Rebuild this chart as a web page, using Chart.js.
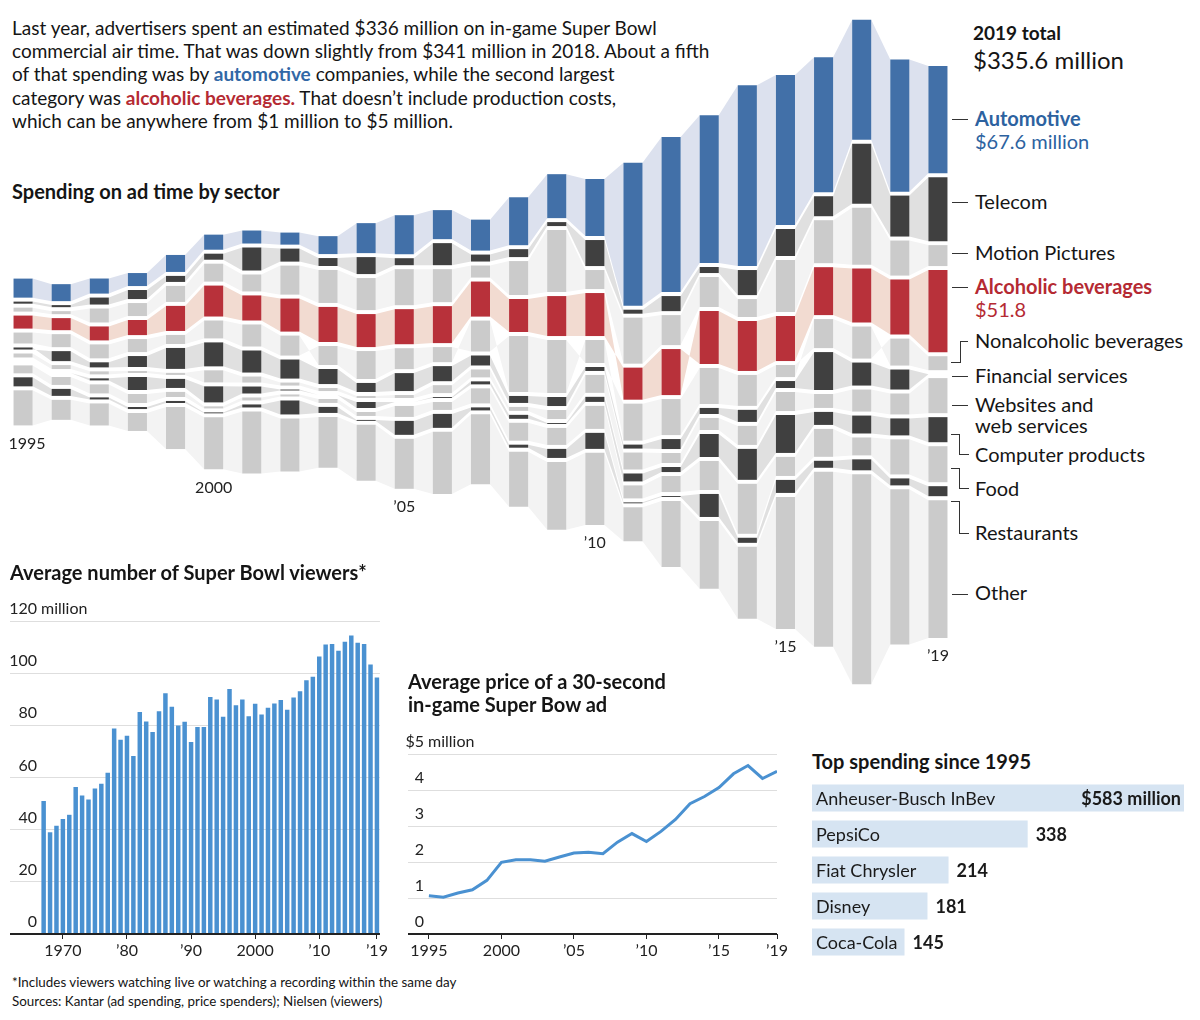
<!DOCTYPE html>
<html>
<head>
<meta charset="utf-8">
<script src="https://cdn.jsdelivr.net/npm/chart.js@4.4.1/dist/chart.umd.min.js"></script>
<style>
  body { margin: 0; background: #fff; font-family: Lato, "Open Sans", sans-serif; color: #151515; }
  #page { position: relative; width: 1200px; height: 1020px; overflow: hidden; }
  .abs { position: absolute; white-space: nowrap; }
  .box { position: absolute; }
  .intro { left: 12px; top: 16px; font-size: 19px; line-height: 23.2px; }
  .intro b.auto { color: #3268a6; }
  .intro b.alc { color: #b52a33; }
  .head { font-weight: 700; font-size: 20px; }
  .lab { font-size: 20px; line-height: 21px; }
  .tick { position: absolute; border-top: 1.5px solid #333; width: 16px; left: 952px; }
  .brk { position: absolute; border: 0 solid #333; }
  .note { font-size: 13.4px; left: 12px; }
</style>
</head>
<body>
<div id="page">
  <div class="abs intro">Last year, advertisers spent an estimated $336 million on in-game Super Bowl<br>commercial air time. That was down slightly from $341 million in 2018. About a fifth<br>of that spending was by <b class="auto">automotive</b> companies, while the second largest<br>category was <b class="alc">alcoholic beverages.</b> That doesn’t include production costs,<br>which can be anywhere from $1 million to $5 million.</div>
  <div class="abs head" style="left:12px;top:179px;">Spending on ad time by sector</div>

  <div class="box" style="left:4px;top:0;width:953px;height:704px;"><canvas id="sector"></canvas></div>

  <div class="abs head" style="left:973px;top:21px;font-size:19px;">2019 total</div>
  <div class="abs" style="left:973px;top:45px;font-size:24px;">$335.6 million</div>
  <div class="abs lab" style="left:975px;top:108px;color:#2d62a0;font-weight:700;">Automotive</div>
  <div class="abs lab" style="left:975px;top:131px;color:#2d62a0;">$67.6 million</div>
  <div class="abs lab" style="left:975px;top:191px;">Telecom</div>
  <div class="abs lab" style="left:975px;top:242px;">Motion Pictures</div>
  <div class="abs lab" style="left:975px;top:276px;color:#b52a33;font-weight:700;">Alcoholic beverages</div>
  <div class="abs lab" style="left:975px;top:299px;color:#b52a33;">$51.8</div>
  <div class="abs lab" style="left:975px;top:330px;">Nonalcoholic beverages</div>
  <div class="abs lab" style="left:975px;top:365px;">Financial services</div>
  <div class="abs lab" style="left:975px;top:394px;">Websites and<br>web services</div>
  <div class="abs lab" style="left:975px;top:444px;">Computer products</div>
  <div class="abs lab" style="left:975px;top:478px;">Food</div>
  <div class="abs lab" style="left:975px;top:522px;">Restaurants</div>
  <div class="abs lab" style="left:975px;top:582px;">Other</div>

  <div class="tick" style="top:119px;"></div>
  <div class="tick" style="top:202px;"></div>
  <div class="tick" style="top:253px;"></div>
  <div class="tick" style="top:287px;"></div>
  <div class="tick" style="top:376px;"></div>
  <div class="tick" style="top:405px;"></div>
  <div class="tick" style="top:594px;"></div>
  <!-- brackets -->
  <div class="brk" style="left:951px;top:341px;width:9px;height:21px;border-right-width:1.5px;border-bottom-width:1.5px;"></div>
  <div class="brk" style="left:960px;top:341px;width:8px;height:0;border-top-width:1.5px;"></div>
  <div class="brk" style="left:951px;top:434px;width:9px;height:0;border-top-width:1.5px;"></div>
  <div class="brk" style="left:959px;top:434px;width:9px;height:20px;border-left-width:1.5px;border-bottom-width:1.5px;"></div>
  <div class="brk" style="left:951px;top:468px;width:9px;height:0;border-top-width:1.5px;"></div>
  <div class="brk" style="left:959px;top:468px;width:9px;height:20px;border-left-width:1.5px;border-bottom-width:1.5px;"></div>
  <div class="brk" style="left:951px;top:501px;width:9px;height:0;border-top-width:1.5px;"></div>
  <div class="brk" style="left:959px;top:501px;width:9px;height:32px;border-left-width:1.5px;border-bottom-width:1.5px;"></div>

  <div class="abs head" style="left:10px;top:560px;">Average number of Super Bowl viewers*</div>
  <div class="box" style="left:0;top:591px;width:390px;height:373px;"><canvas id="viewers"></canvas></div>

  <div class="abs head" style="left:408px;top:670px;line-height:23px;">Average price of a 30-second<br>in-game Super Bow ad</div>
  <div class="box" style="left:398px;top:724px;width:392px;height:240px;"><canvas id="price"></canvas></div>

  <div class="abs head" style="left:812px;top:749px;">Top spending since 1995</div>
  <div class="box" style="left:812px;top:780px;width:372px;height:180px;"><canvas id="top"></canvas></div>

  <div class="abs note" style="top:974px;">*Includes viewers watching live or watching a recording within the same day</div>
  <div class="abs note" style="top:993px;">Sources: Kantar (ad spending, price spenders); Nielsen (viewers)</div>
</div>

<script>
const FONT = 'Lato, "Open Sans", sans-serif';

// ---- ad spending by sector, $ million, 1995-2019 ----
const years = [1995, 1996, 1997, 1998, 1999, 2000, 2001, 2002, 2003, 2004, 2005, 2006, 2007,
  2008, 2009, 2010, 2011, 2012, 2013, 2014, 2015, 2016, 2017, 2018, 2019];
const yearLabels = { 1995: '1995', 2000: '2000', 2005: '’05', 2010: '’10', 2015: '’15', 2019: '’19' };

const automotive  = [12.0, 10.7, 9.5, 8.2, 10.7, 9.5, 8.2, 7.6, 11.3, 18.9, 24.6, 18.3, 19.5, 30.2, 27.7, 35.9, 90.1, 97.7, 93.2, 114.0, 94.5, 85.1, 75.6, 83.2, 67.6];
const telecom     = [1.3, 1.3, 4.4, 5.7, 3.8, 3.8, 14.5, 8.2, 5.0, 10.7, 4.4, 13.9, 4.4, 5.0, 2.5, 16.4, 2.5, 9.5, 3.8, 15.8, 17.0, 12.6, 37.8, 25.8, 40.3];
const motion      = [2.5, 1.9, 8.8, 8.2, 10.1, 11.3, 10.7, 18.3, 20.8, 20.2, 22.7, 20.8, 7.6, 21.4, 39.1, 12.0, 29.0, 18.9, 18.9, 11.3, 32.8, 27.1, 35.9, 22.1, 13.2];
const alcoholic   = [8.2, 7.6, 8.8, 9.5, 15.8, 19.5, 15.8, 20.8, 22.1, 20.8, 22.1, 23.3, 22.1, 20.8, 25.2, 27.1, 20.2, 29.0, 33.4, 31.5, 28.4, 30.2, 34.0, 34.7, 51.8];
const nonalcohol  = [6.9, 8.2, 8.8, 8.2, 5.7, 11.3, 13.9, 12.6, 12.0, 17.6, 13.2, 9.5, 19.5, 35.3, 33.4, 14.5, 23.3, 22.7, 22.7, 19.5, 7.6, 18.3, 20.2, 17.0, 8.8];
const financial   = [1.3, 6.3, 3.2, 6.9, 13.2, 15.1, 13.9, 12.0, 9.5, 5.7, 11.3, 9.5, 6.3, 4.4, 5.7, 2.5, 2.5, 6.3, 3.8, 7.6, 4.4, 23.9, 14.5, 12.6, 0];
const websites    = [2.5, 2.5, 1.9, 1.3, 1.3, 7.6, 3.8, 1.9, 1.9, 1.3, 1.9, 5.0, 5.0, 2.5, 5.7, 11.3, 10.7, 6.3, 7.6, 12.0, 12.0, 8.8, 13.9, 13.2, 22.1];
const computer    = [0, 0, 1.3, 8.2, 5.7, 10.1, 4.4, 0.6, 0, 3.8, 0, 0.6, 1.9, 2.5, 0.6, 3.2, 5.0, 3.2, 14.5, 19.5, 23.9, 8.2, 11.3, 10.7, 15.8];
const food        = [5.0, 5.0, 5.7, 5.7, 3.2, 1.3, 1.9, 1.3, 2.5, 2.5, 6.9, 5.0, 9.5, 11.3, 10.7, 14.5, 8.2, 10.1, 18.3, 31.5, 12.0, 17.6, 11.3, 22.1, 22.7];
const restaurants = [5.7, 4.4, 1.3, 1.3, 1.3, 0.6, 1.9, 8.8, 3.8, 0.6, 8.8, 8.8, 1.9, 1.9, 5.7, 10.1, 0.6, 0.6, 14.5, 3.2, 8.2, 4.4, 6.9, 4.4, 6.3];
const other       = [22.1, 12.6, 13.9, 11.3, 26.5, 32.8, 39.1, 33.4, 32.1, 35.3, 31.5, 39.1, 44.1, 34.7, 42.8, 45.4, 21.4, 41.6, 42.8, 45.4, 83.2, 110.3, 132.3, 97.7, 86.9];

const sectorNames = ['Automotive', 'Telecom', 'Motion Pictures', 'Alcoholic beverages',
  'Nonalcoholic beverages', 'Financial services', 'Websites and web services',
  'Computer products', 'Food', 'Restaurants', 'Other'];
const sectorSeries = [automotive, telecom, motion, alcoholic, nonalcohol, financial,
  websites, computer, food, restaurants, other];

// ---- viewers, millions, 1967-2019 ----
const viewerYears = [];
for (let y = 1967; y <= 2019; y++) viewerYears.push(y);
const viewers = [51.0, 39.0, 41.5, 44.1, 45.7, 56.4, 53.1, 51.6, 55.8, 57.6, 61.8, 78.8, 74.5,
  76.0, 68.2, 85.1, 81.5, 77.4, 85.4, 92.3, 87.1, 79.9, 81.4, 73.6, 79.4, 79.4, 90.9, 89.9,
  83.3, 93.9, 87.7, 89.9, 83.5, 88.3, 84.2, 86.7, 88.4, 89.7, 86.0, 90.7, 93.1, 97.3, 98.6,
  106.4, 111.0, 111.2, 108.6, 112.0, 114.4, 111.7, 111.2, 103.3, 98.3];
const viewerTicks = [0, 20, 40, 60, 80, 100, 120];
const viewerYearTicks = { 1970: '1970', 1980: '’80', 1990: '’90', 2000: '2000', 2010: '’10', 2019: '’19' };

// ---- price of 30-second ad, $ million ----
const adPrice = [1.06, 1.02, 1.14, 1.23, 1.49, 1.99, 2.06, 2.06, 2.02, 2.14, 2.25, 2.27, 2.23,
  2.55, 2.79, 2.57, 2.85, 3.18, 3.62, 3.82, 4.07, 4.45, 4.68, 4.32, 4.52];
const priceTicks = [0, 1, 2, 3, 4, 5];

// ---- top spenders since 1995, $ million ----
const companies = ['Anheuser-Busch InBev', 'PepsiCo', 'Fiat Chrysler', 'Disney', 'Coca-Cola'];
const companySpend = [583, 338, 214, 181, 145];

const BLUE = '#4270a8', DARK = '#404040', LIGHT = '#cbcbcb', RED = '#b8313a';
const BAND_BLUE = '#dce1ee', BAND_DARK = '#e0e0e0', BAND_LIGHT = '#f3f3f3', BAND_RED = '#f2dbd1';
const LINE_BLUE = '#4a91d1';
const GAP = 2.5; // white space between segments, in $ million

Chart.defaults.font.family = FONT;
Chart.defaults.animation = false;

// ---------- sector streams ----------
function sectorColors(i) {
  if (i === 0) return [BLUE, BAND_BLUE];
  if (i === 3) return [RED, BAND_RED];
  if (i === 1 || i === 5 || i === 7 || i === 9) return [DARK, BAND_DARK];
  return [LIGHT, BAND_LIGHT];
}

// stack each year top-down, centred on zero
const ranges = sectorSeries.map(() => []);
years.forEach((yr, j) => {
  const total = sectorSeries.reduce((s, arr) => s + arr[j], 0) + GAP * (sectorSeries.length - 1);
  let cursor = total / 2;
  sectorSeries.forEach((arr, i) => {
    ranges[i].push([cursor - arr[j], cursor]);
    cursor -= arr[j] + GAP;
  });
});

const bandPlugin = {
  id: 'bands',
  beforeDatasetsDraw(chart) {
    const ctx = chart.ctx;
    ctx.save();
    chart.data.datasets.forEach((ds, i) => {
      const bars = chart.getDatasetMeta(i).data;
      ctx.fillStyle = ds.bandColor;
      for (let j = 0; j < bars.length - 1; j++) {
        const a = bars[j], b = bars[j + 1];
        ctx.beginPath();
        ctx.moveTo(a.x + a.width / 2, a.y);
        ctx.lineTo(b.x - b.width / 2, b.y);
        ctx.lineTo(b.x - b.width / 2, b.base);
        ctx.lineTo(a.x + a.width / 2, a.base);
        ctx.closePath();
        ctx.fill();
      }
    });
    ctx.restore();
  }
};

const yearLabelPlugin = {
  id: 'yearLabels',
  afterDatasetsDraw(chart) {
    const ctx = chart.ctx;
    const last = chart.getDatasetMeta(chart.data.datasets.length - 1).data;
    ctx.save();
    ctx.font = '16px ' + FONT;
    ctx.fillStyle = '#222';
    ctx.textAlign = 'center';
    ctx.textBaseline = 'middle';
    years.forEach((yr, j) => {
      if (!yearLabels[yr]) return;
      const bar = last[j];
      ctx.fillText(yearLabels[yr], bar.x + (j === 0 ? 4 : 0), Math.max(bar.y, bar.base) + 18);
    });
    ctx.restore();
  }
};

new Chart(document.getElementById('sector'), {
  type: 'bar',
  data: {
    labels: years.map(String),
    datasets: sectorNames.map((name, i) => ({
      label: name,
      data: ranges[i],
      backgroundColor: sectorColors(i)[0],
      bandColor: sectorColors(i)[1],
      borderWidth: 0,
      grouped: false,
      barPercentage: 0.5,
      categoryPercentage: 1.0
    }))
  },
  options: {
    responsive: true,
    maintainAspectRatio: false,
    layout: { padding: 0 },
    plugins: { legend: { display: false }, tooltip: { enabled: false } },
    scales: {
      x: { display: false },
      y: { display: false, min: -221.8, max: 221.8 }
    }
  },
  plugins: [bandPlugin, yearLabelPlugin]
});

// ---------- small charts ----------
function yLabelPlugin(rightX, ticks, topPrefix) {
  return {
    id: 'yLabels',
    afterDraw(chart) {
      const ctx = chart.ctx;
      const y = chart.scales.y;
      ctx.save();
      ctx.font = '16px ' + FONT;
      ctx.fillStyle = '#222';
      ctx.textBaseline = 'middle';
      ticks.forEach((v, k) => {
        const py = y.getPixelForValue(v) - 12;
        ctx.textAlign = 'right';
        const top = k === ticks.length - 1;
        ctx.fillText((top ? topPrefix : '') + v, rightX, py);
        if (top) {
          ctx.textAlign = 'left';
          ctx.fillText('million', rightX + 4, py);
        }
      });
      ctx.restore();
    }
  };
}

function smallScales(xMin, xMax, tickMap, yMax, yTicks) {
  return {
    x: {
      type: 'linear', min: xMin, max: xMax, offset: false,
      afterBuildTicks: s => { s.ticks = Object.keys(tickMap).map(v => ({ value: +v })); },
      afterFit: s => { s.height = 30; },
      grid: { drawOnChartArea: false, drawTicks: true, tickLength: 5, color: '#222', offset: false },
      border: { display: false },
      ticks: {
        callback: v => tickMap[v], color: '#222', padding: 2,
        font: { size: 16 }, maxRotation: 0, autoSkip: false
      }
    },
    y: {
      min: 0, max: yMax,
      afterBuildTicks: s => { s.ticks = yTicks.map(v => ({ value: v })); },
      afterFit: s => { s.width = 0; },
      border: { display: false },
      grid: {
        drawTicks: false,
        color: c => c.tick.value === 0 ? '#222' : '#dedede',
        lineWidth: c => c.tick.value === 0 ? 2 : 1
      },
      ticks: { display: false }
    }
  };
}

new Chart(document.getElementById('viewers'), {
  type: 'bar',
  data: {
    datasets: [{
      data: viewerYears.map((yr, i) => ({ x: yr, y: viewers[i] })),
      backgroundColor: LINE_BLUE,
      borderWidth: 0,
      barPercentage: 0.7,
      categoryPercentage: 1.0
    }]
  },
  options: {
    responsive: true,
    maintainAspectRatio: false,
    layout: { padding: { left: 10, right: 10, top: 30, bottom: 0 } },
    plugins: { legend: { display: false }, tooltip: { enabled: false } },
    scales: smallScales(1961.75, 2019.47, viewerYearTicks, 120, viewerTicks)
  },
  plugins: [yLabelPlugin(37, viewerTicks, '')]
});

new Chart(document.getElementById('price'), {
  type: 'line',
  data: {
    datasets: [{
      data: years.map((yr, i) => ({ x: yr, y: adPrice[i] })),
      borderColor: LINE_BLUE,
      borderWidth: 3,
      pointRadius: 0,
      tension: 0,
      fill: false
    }]
  },
  options: {
    responsive: true,
    maintainAspectRatio: false,
    layout: { padding: { left: 10, right: 10, top: 30, bottom: 0 } },
    plugins: { legend: { display: false }, tooltip: { enabled: false } },
    scales: smallScales(1993.56, 2019, yearLabels, 5, priceTicks)
  },
  plugins: [yLabelPlugin(26, priceTicks, '$')]
});

// ---------- top spenders ----------
const spendLabelPlugin = {
  id: 'spendLabels',
  afterDatasetsDraw(chart) {
    const ctx = chart.ctx;
    const bars = chart.getDatasetMeta(0).data;
    ctx.save();
    ctx.textBaseline = 'middle';
    bars.forEach((bar, i) => {
      ctx.fillStyle = '#1a1a1a';
      ctx.font = '18px ' + FONT;
      ctx.textAlign = 'left';
      ctx.fillText(companies[i], chart.chartArea.left + 4, bar.y + 1);
      ctx.font = 'bold 18px ' + FONT;
      if (i === 0) {
        ctx.textAlign = 'right';
        ctx.fillText('$' + companySpend[i] + ' million', bar.x - 3, bar.y + 1);
      } else {
        ctx.fillText(String(companySpend[i]), bar.x + 8, bar.y + 1);
      }
    });
    ctx.restore();
  }
};

new Chart(document.getElementById('top'), {
  type: 'bar',
  data: {
    labels: companies,
    datasets: [{
      data: companySpend,
      backgroundColor: '#d6e4f2',
      borderWidth: 0,
      barPercentage: 0.75,
      categoryPercentage: 1.0
    }]
  },
  options: {
    indexAxis: 'y',
    responsive: true,
    maintainAspectRatio: false,
    layout: { padding: 0 },
    plugins: { legend: { display: false }, tooltip: { enabled: false } },
    scales: {
      x: { display: false, min: 0, max: 583 },
      y: { display: false }
    }
  },
  plugins: [spendLabelPlugin]
});
</script>
</body>
</html>
